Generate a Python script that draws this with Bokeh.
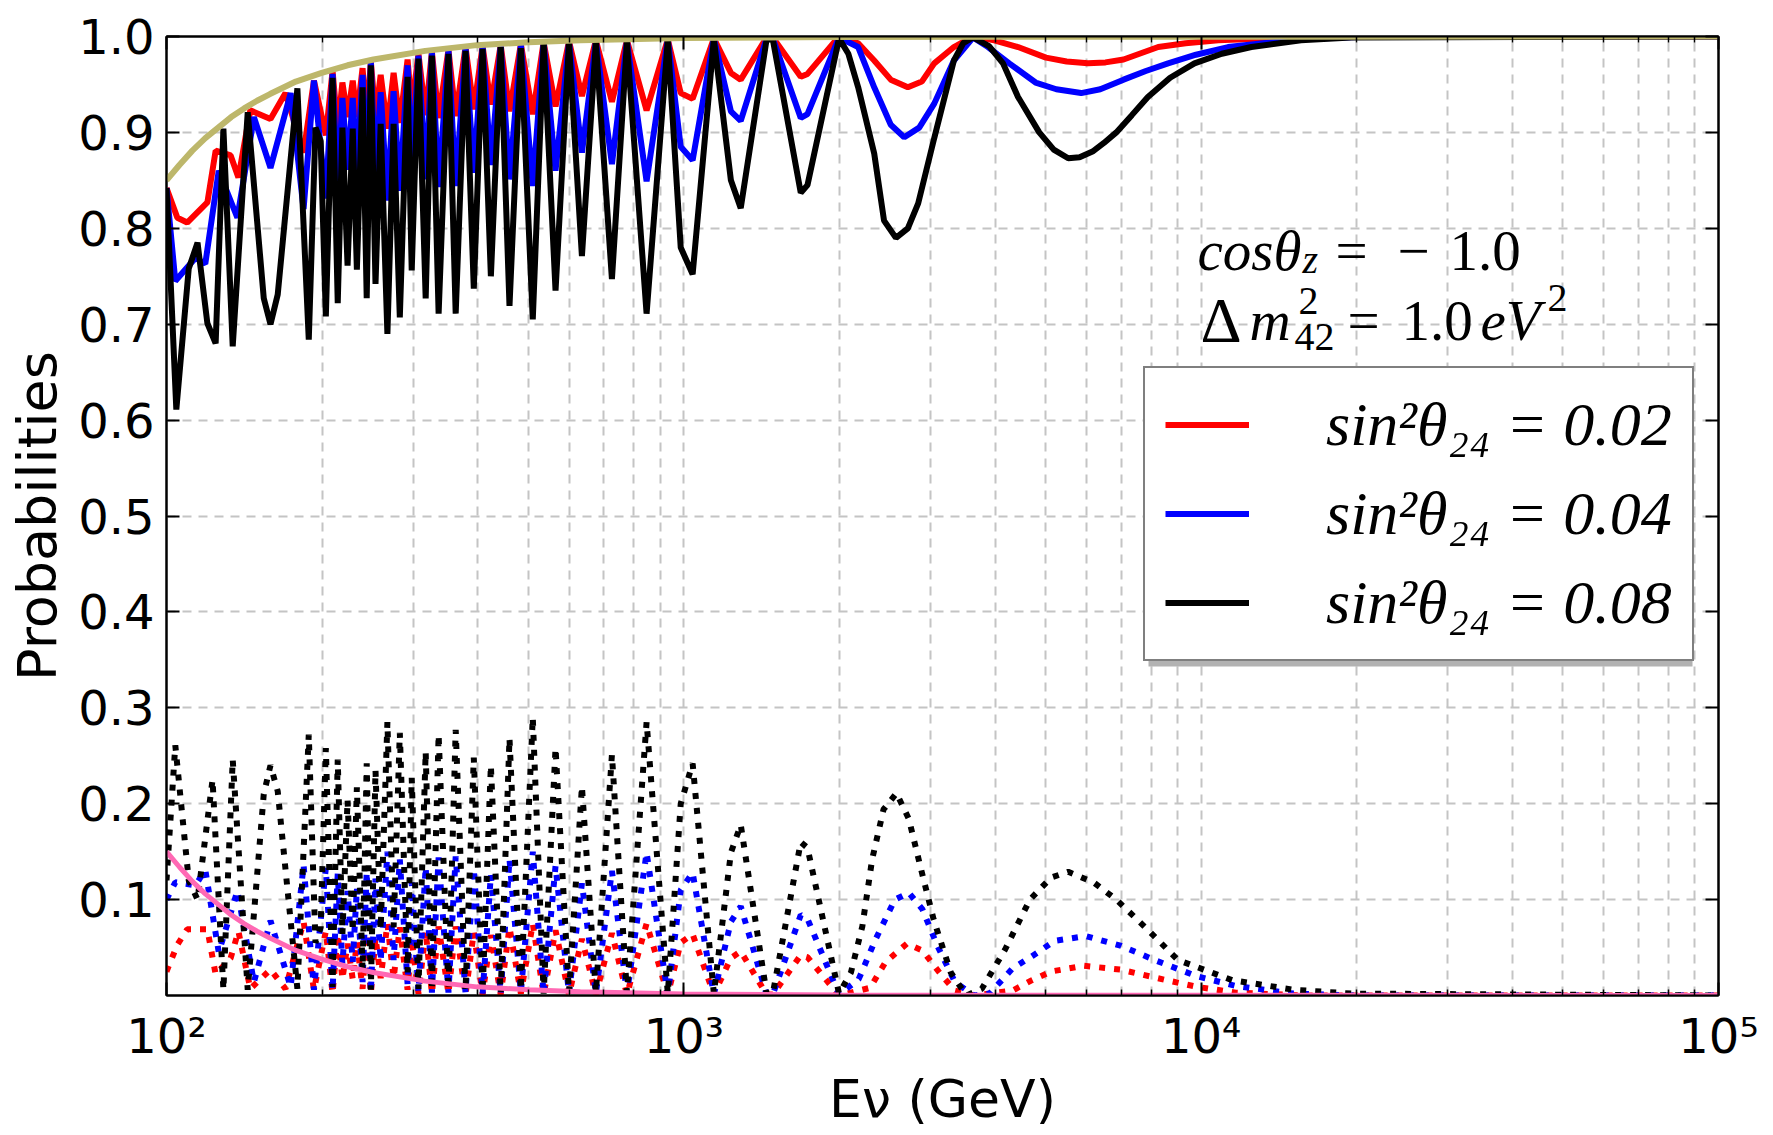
from bokeh.plotting import figure
from bokeh.models import (Range1d, FixedTicker, LogAxis, LinearAxis, CustomJSTickFormatter,
                          Legend, LegendItem, Label, BoxAnnotation)
from bokeh.embed import file_html
from bokeh.resources import INLINE

# ---------------- data (energies stored as log10(E / GeV)) ----------------
# shared sampling knots in the middle of the range
mid_logE = [2.308, 2.321, 2.331, 2.340, 2.350, 2.360, 2.368, 2.379, 2.387, 2.395,
            2.404, 2.414, 2.427, 2.439, 2.451, 2.466, 2.474, 2.487, 2.501, 2.513,
            2.526, 2.545, 2.559, 2.578, 2.594, 2.611, 2.627, 2.646, 2.663, 2.685,
            2.708, 2.729, 2.752, 2.778, 2.803, 2.830, 2.861, 2.890, 2.928, 2.969,
            2.994, 3.017, 3.058, 3.091, 3.110, 3.160, 3.172, 3.226, 3.239, 3.300]

# survival probabilities (solid)
black_low = [(2.000, .842), (2.019, .611), (2.043, .758), (2.060, .785), (2.079, .701),
             (2.095, .680), (2.110, .904), (2.128, .677), (2.157, .921), (2.188, .727),
             (2.201, .700), (2.215, .731), (2.253, .946), (2.275, .684), (2.288, .905),
             (2.298, .891)]
black_mid = [.708, .957, .722, .905, .761, .904, .757, .947, .727, .970,
             .742, .909, .690, .909, .707, .958, .756, .977, .727, .980,
             .711, .982, .711, .985, .737, .987, .750, .989, .719, .988,
             .705, .993, .735, .993, .771, .994, .747, .994, .711, .996,
             .780, .752, .997, .850, .821, .997, .997, .837, .845, .998]
black_high = [(3.318, .982), (3.337, .947), (3.368, .878), (3.387, .808), (3.410, .790),
              (3.433, .800), (3.453, .826), (3.484, .894), (3.522, .975), (3.540, .993),
              (3.559, .999), (3.590, .990), (3.617, .972), (3.646, .937), (3.687, .900),
              (3.715, .882), (3.743, .873), (3.765, .874), (3.790, .880), (3.812, .889),
              (3.836, .900), (3.866, .918), (3.897, .937), (3.940, .957), (3.987, .972),
              (4.040, .982), (4.097, .989), (4.193, .996), (4.290, .999), (5.000, 1.000)]

red_low = [(2.000, .842), (2.021, .811), (2.040, .806), (2.079, .827), (2.095, .881),
           (2.124, .876), (2.139, .853), (2.162, .923), (2.201, .914), (2.230, .941),
           (2.265, .879), (2.285, .954)]
red_mid = [.897, .964, .903, .952, .916, .954, .916, .967, .911, .974,
           .916, .960, .904, .962, .910, .976, .924, .982, .918, .984,
           .915, .986, .917, .989, .924, .990, .929, .991, .922, .992,
           .919, .994, .927, .995, .938, .996, .932, .996, .923, .997,
           .941, .935, .998, .962, .955, .999, .999, .958, .961, 1.000]
red_high = [(3.337, .993), (3.368, .975), (3.400, .955), (3.433, .947), (3.460, .953),
            (3.484, .972), (3.522, .989), (3.559, 1.000), (3.600, .996), (3.646, .989),
            (3.700, .978), (3.740, .974), (3.781, .972), (3.815, .973), (3.850, .976),
            (3.917, .989), (3.970, .993), (4.033, .996), (4.200, .9995), (5.000, 1.000)]

blue_low = [(2.000, .842), (2.017, .745), (2.056, .769), (2.075, .763), (2.101, .860),
            (2.137, .811), (2.169, .916), (2.201, .863), (2.240, .941), (2.265, .820),
            (2.285, .954)]
blue_mid = [.831, .961, .840, .936, .861, .936, .860, .960, .846, .973,
            .855, .942, .829, .943, .839, .970, .865, .980, .851, .983,
            .843, .985, .844, .987, .858, .989, .866, .990, .851, .991,
            .844, .994, .860, .994, .879, .995, .867, .995, .849, .997,
            .885, .871, .998, .922, .912, .998, .998, .915, .919, .999]
blue_high = [(3.337, .989), (3.368, .947), (3.400, .908), (3.426, .895), (3.455, .905),
             (3.484, .930), (3.522, .975), (3.559, .999), (3.588, .989), (3.629, .972),
             (3.680, .952), (3.720, .945), (3.768, .941), (3.805, .945), (3.850, .955),
             (3.893, .964), (3.936, .972), (3.990, .981), (4.052, .989), (4.190, .997),
             (4.300, .9995), (5.000, 1.000)]

# transition probabilities (dotted)
blackdot_low = [(2.000, .120), (2.017, .261), (2.043, .120), (2.060, .100), (2.089, .225),
                (2.110, .006), (2.128, .246), (2.157, .006), (2.188, .210), (2.201, .240),
                (2.215, .213), (2.253, .007), (2.275, .272), (2.288, .055), (2.298, .071)]
blackdot_mid = [.258, .009, .246, .064, .204, .067, .217, .027, .242, .006,
                .235, .069, .285, .071, .274, .024, .227, .007, .254, .006,
                .272, .006, .277, .005, .248, .004, .240, .003, .268, .006,
                .290, .002, .258, .003, .218, .003, .251, .003, .285, .002,
                .200, .242, .002, .149, .178, .002, .002, .160, .154, .002]
blackdot_high = [(3.323, .024), (3.345, .072), (3.364, .142), (3.386, .194), (3.411, .211),
                 (3.435, .184), (3.457, .135), (3.483, .079), (3.516, .024), (3.546, .000),
                 (3.576, .007), (3.621, .048), (3.669, .100), (3.710, .123), (3.743, .129),
                 (3.792, .118), (3.836, .100), (3.896, .069), (3.955, .037), (4.060, .016),
                 (4.179, .006), (4.290, .002), (5.000, .000)]

bluedot_low = [(2.000, .100), (2.017, .118), (2.056, .115), (2.075, .131), (2.101, .045),
               (2.137, .109), (2.169, .014), (2.201, .078), (2.240, .009), (2.265, .136),
               (2.285, .006)]
bluedot_mid = [.133, .005, .127, .033, .109, .035, .112, .014, .129, .003,
               .122, .036, .150, .037, .142, .012, .118, .004, .134, .003,
               .144, .003, .145, .003, .132, .002, .126, .002, .142, .003,
               .150, .001, .135, .002, .117, .002, .130, .002, .149, .001,
               .110, .128, .001, .077, .093, .001, .001, .084, .080, .001]
bluedot_high = [(3.338, .017), (3.371, .059), (3.408, .100), (3.435, .107), (3.461, .090),
                (3.490, .052), (3.524, .014), (3.561, .000), (3.591, .002), (3.635, .028),
                (3.673, .041), (3.717, .057), (3.777, .062), (3.844, .052), (3.910, .037),
                (3.992, .020), (4.067, .010), (4.178, .002), (4.300, .000), (5.000, .000)]

reddot_low = [(2.000, .025), (2.021, .053), (2.040, .069), (2.079, .069), (2.095, .022),
              (2.124, .039), (2.139, .067), (2.162, .007), (2.201, .027), (2.230, .007),
              (2.265, .077), (2.285, .006)]
reddot_mid = [.067, .002, .064, .017, .054, .017, .056, .007, .064, .002,
              .061, .018, .075, .018, .071, .006, .059, .002, .067, .002,
              .072, .002, .072, .001, .066, .001, .063, .001, .071, .002,
              .075, .001, .068, .001, .059, .001, .065, .001, .075, .001,
              .055, .064, .001, .039, .046, .001, .001, .042, .040, .000]
reddot_high = [(3.360, .008), (3.390, .035), (3.431, .054), (3.461, .047), (3.494, .024),
               (3.524, .005), (3.560, .000), (3.635, .005), (3.673, .016), (3.710, .025),
               (3.773, .031), (3.844, .027), (3.933, .016), (3.992, .009), (4.067, .003),
               (4.200, .000), (5.000, .000)]

# no-sterile envelope (khaki) and its complement (pink)
khaki_curve = [(2.000, .850), (2.025, .866), (2.050, .881), (2.075, .894), (2.100, .905),
               (2.125, .916), (2.150, .925), (2.175, .933), (2.200, .940), (2.250, .953),
               (2.300, .962), (2.350, .970), (2.400, .976), (2.500, .985), (2.600, .991),
               (2.700, .994), (2.800, .996), (3.000, .9985), (3.300, .9996), (5.000, 1.000)]
pink_curve = [(2.000, .150), (2.025, .134), (2.050, .119), (2.075, .106), (2.100, .095),
              (2.125, .084), (2.150, .075), (2.175, .067), (2.200, .060), (2.250, .047),
              (2.300, .038), (2.350, .030), (2.400, .024), (2.500, .015), (2.600, .009),
              (2.700, .006), (2.800, .004), (3.000, .0015), (3.300, .0004), (5.000, .000)]

legend_labels = ["sin\u00b2\u03b8\u2082\u2084 = 0.02", "sin\u00b2\u03b8\u2082\u2084 = 0.04",
                 "sin\u00b2\u03b8\u2082\u2084 = 0.08"]
y_ticks = [0.1, 0.2, 0.3, 0.4, 0.5, 0.6, 0.7, 0.8, 0.9, 1.0]
x_major = [1e2, 1e3, 1e4, 1e5]


def series(low, mid, high):
    pts = list(low) + list(zip(mid_logE, mid)) + list(high)
    return [10 ** lg for lg, _ in pts], [v for _, v in pts]


def curve(pts):
    return [10 ** lg for lg, _ in pts], [v for _, v in pts]


# ---------------- figure ----------------
p = figure(frame_width=1552, frame_height=959, x_axis_type="log",
           x_range=Range1d(100, 1e5), y_range=Range1d(0, 1.0),
           output_backend="svg", toolbar_location=None,
           min_border_left=166, min_border_right=47, min_border_top=36, min_border_bottom=132,
           background_fill_color="white", border_fill_color="white")
p.outline_line_color = "black"
p.outline_line_width = 2

x_minor = [k * d for d in [1e2, 1e3, 1e4] for k in range(2, 10)]
xticker = FixedTicker(ticks=x_major, minor_ticks=x_minor)
yticker = FixedTicker(ticks=y_ticks)

xfmt = CustomJSTickFormatter(code="""
const e = Math.round(Math.log10(tick));
const s = {2: '\u00b2', 3: '\u00b3', 4: '\u2074', 5: '\u2075'};
return '10' + (s[e] || '');
""")
yfmt = CustomJSTickFormatter(code="return tick.toFixed(1);")


def style_axis(ax, labels=True):
    ax.axis_line_color = "black"
    ax.axis_line_width = 2
    ax.major_tick_in = 13
    ax.major_tick_out = 0
    ax.minor_tick_in = 6
    ax.minor_tick_out = 0
    ax.major_tick_line_width = 2
    ax.minor_tick_line_width = 1.5
    ax.major_tick_line_color = "black"
    ax.minor_tick_line_color = "black"
    if labels:
        ax.major_label_text_font = "DejaVu Sans"
        ax.major_label_text_font_size = "48px"
        ax.major_label_text_color = "black"
    else:
        ax.major_label_text_font_size = "0px"
        ax.major_label_text_color = None


xa = p.xaxis[0]
xa.ticker = xticker
xa.formatter = xfmt
style_axis(xa)
xa.major_label_standoff = 12
xa.axis_label = "E\u03bd (GeV)"
xa.axis_label_text_font = "DejaVu Sans"
xa.axis_label_text_font_style = "normal"
xa.axis_label_text_font_size = "52px"
xa.axis_label_text_color = "black"
xa.axis_label_standoff = 2

ya = p.yaxis[0]
ya.ticker = yticker
ya.formatter = yfmt
style_axis(ya)
ya.minor_tick_line_color = None
ya.major_label_standoff = 12
ya.axis_label = "Probabilities"
ya.axis_label_text_font = "DejaVu Sans"
ya.axis_label_text_font_style = "normal"
ya.axis_label_text_font_size = "54px"
ya.axis_label_text_color = "black"
ya.axis_label_standoff = 6

top = LogAxis(ticker=xticker)
style_axis(top, labels=False)
p.add_layout(top, "above")
right = LinearAxis(ticker=yticker)
style_axis(right, labels=False)
right.minor_tick_line_color = None
p.add_layout(right, "right")

for g in (p.xgrid[0], p.ygrid[0]):
    g.grid_line_color = "#c4c4c4"
    g.grid_line_dash = "9 7"
    g.grid_line_width = 2
p.xgrid[0].minor_grid_line_color = "#c4c4c4"
p.xgrid[0].minor_grid_line_dash = "9 7"
p.xgrid[0].minor_grid_line_width = 2

LW = 6
DOT = "6 9"

rx, ry = series(red_low, red_mid, red_high)
r_red = p.line(rx, ry, line_color="red", line_width=LW)
rdx, rdy = series(reddot_low, reddot_mid, reddot_high)
p.line(rdx, rdy, line_color="red", line_width=LW, line_dash=DOT)

bx, by = series(blue_low, blue_mid, blue_high)
r_blue = p.line(bx, by, line_color="blue", line_width=LW)
bdx, bdy = series(bluedot_low, bluedot_mid, bluedot_high)
p.line(bdx, bdy, line_color="blue", line_width=LW, line_dash=DOT)

kx, ky = series(black_low, black_mid, black_high)
r_black = p.line(kx, ky, line_color="black", line_width=LW)
kdx, kdy = series(blackdot_low, blackdot_mid, blackdot_high)
p.line(kdx, kdy, line_color="black", line_width=LW, line_dash=DOT)

hx, hy = curve(khaki_curve)
p.line(hx, hy, line_color="#bdb76b", line_width=6)
px_, py_ = curve(pink_curve)
p.line(px_, py_, line_color="#ff69b4", line_width=5)

# legend shadow + legend
p.add_layout(BoxAnnotation(left=1148, right=1692, top=377, bottom=666,
                           left_units="canvas", right_units="canvas",
                           top_units="canvas", bottom_units="canvas",
                           fill_color="#7f7f7f", fill_alpha=0.6, line_color=None))
legend = Legend(items=[LegendItem(label=legend_labels[0], renderers=[r_red]),
                       LegendItem(label=legend_labels[1], renderers=[r_blue]),
                       LegendItem(label=legend_labels[2], renderers=[r_black])],
                location=(977, 334))
legend.label_text_font = "Liberation Serif"
legend.label_text_font_style = "italic"
legend.label_text_font_size = "62px"
legend.label_text_color = "black"
legend.label_height = 73
legend.glyph_height = 73
legend.glyph_width = 84
legend.label_standoff = 77
legend.spacing = 16
legend.padding = 20
legend.margin = 0
legend.border_line_color = "black"
legend.border_line_width = 2
legend.background_fill_color = "white"
legend.background_fill_alpha = 1.0
p.add_layout(legend)


def txt(s, x, y, size, font="Liberation Serif", style="normal", align="left"):
    p.add_layout(Label(x=x, y=y, x_units="canvas", y_units="canvas", text=s,
                       text_font=font, text_font_style=style, text_font_size=f"{size}px",
                       text_align=align, text_baseline="alphabetic", text_color="black"))


# annotation (cos theta_z and Delta m^2_42)
txt("cos\u03b8", 1197, 250, 57, style="italic")
txt("z", 1302, 259, 40, style="italic")
txt("=", 1335, 250, 57)
txt("\u2212", 1397, 250, 57)
txt("1.0", 1449, 250, 57)
txt("\u0394", 1200, 320, 64)
txt("m", 1249, 320, 57, style="italic")
txt("2", 1298, 300, 40)
txt("42", 1294, 336, 40)
txt("=", 1347, 320, 57)
txt("1.0", 1401, 320, 57)
txt("eV", 1480, 320, 57, style="italic")
txt("2", 1547, 297, 40)

open("out.html", "w").write(file_html(p, INLINE))
